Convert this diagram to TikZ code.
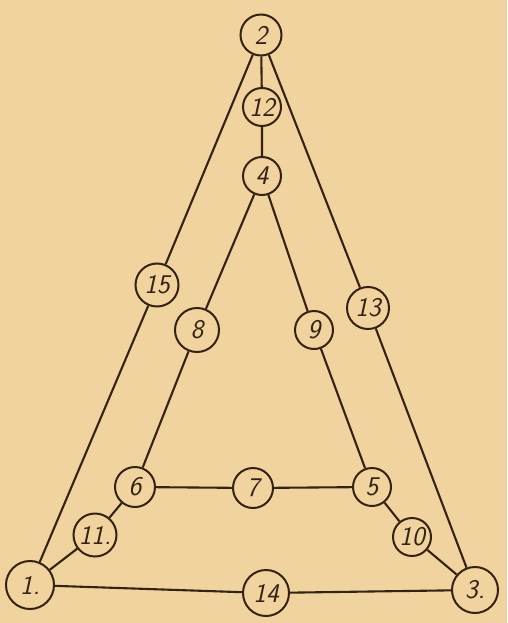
\documentclass[tikz,border=0pt]{standalone}
\usepackage{xcolor}
\definecolor{paper}{RGB}{240,211,158}
\definecolor{ink}{RGB}{52,34,18}
\begin{document}
\begin{tikzpicture}[x=1pt,y=-1pt,
  vert/.style={circle,draw=ink,line width=2pt,inner sep=0pt,minimum size=#1,
    text=ink,font=\fontsize{27}{27}\selectfont\sffamily\slshape},
  vert/.default=40pt,
  edge/.style={draw=ink,line width=2.1pt}]
\fill[paper] (0,0) rectangle (507,623);
\useasboundingbox (0,0) rectangle (507,623);
\node[vert=41pt] (n2) at (261,35) {2};
\node[vert=38pt] (n12) at (262,107) {12};
\node[vert=38pt] (n4) at (262,176) {4};
\node[vert=43pt] (n15) at (157,285) {15};
\node[vert=42pt] (n13) at (368,308) {13};
\node[vert=44pt] (n8) at (197,330) {8};
\node[vert=38pt] (n9) at (314,330) {9};
\node[vert=40pt] (n6) at (135,487) {6};
\node[vert=40pt] (n7) at (253,488) {7};
\node[vert=38pt] (n5) at (372,487) {5};
\node[vert=43pt] (n11) at (95,535) {11.};
\node[vert=38pt] (n10) at (412,537) {10};
\node[vert=48pt] (n1) at (30,585) {1.};
\node[vert=46pt] (n14) at (266,593) {14};
\node[vert=46pt] (n3) at (475,590) {3.};
\path[edge] (n2) -- (n15) -- (n1);
\path[edge] (n2) -- (n13) -- (n3);
\path[edge] (n1) -- (n14) -- (n3);
\path[edge] (n2) -- (n12) -- (n4);
\path[edge] (n4) -- (n8) -- (n6);
\path[edge] (n4) -- (n9) -- (n5);
\path[edge] (n6) -- (n7) -- (n5);
\path[edge] (n6) -- (n11) -- (n1);
\path[edge] (n5) -- (n10) -- (n3);
\end{tikzpicture}
\end{document}
